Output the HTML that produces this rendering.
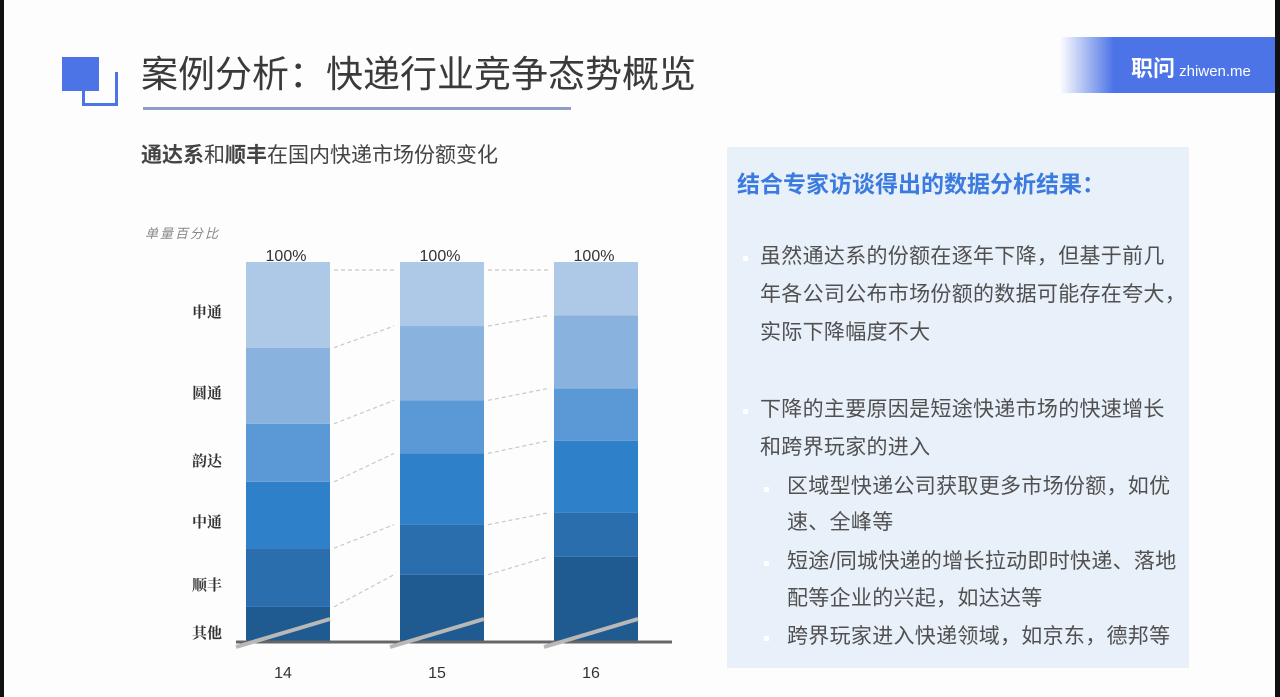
<!DOCTYPE html>
<html><head><meta charset="utf-8"><style>
body{margin:0;width:1280px;height:697px;overflow:hidden;background:#fdfdfe;font-family:"Liberation Sans","Noto Sans CJK SC",sans-serif;position:relative}
.abs{position:absolute;white-space:nowrap}
.t{font-size:21px;color:#505050;line-height:38px;letter-spacing:0.3px}
.dot{position:absolute;width:5px;height:5px;background:#fff;border-radius:1px}
</style></head><body>
<div class="abs" style="left:0;top:0;width:4px;height:697px;background:#111"></div>
<div class="abs" style="left:1275px;top:0;width:5px;height:697px;background:#111"></div>
<div class="abs" style="left:62px;top:57px;width:37px;height:34px;background:#4d74e6"></div>
<div class="abs" style="left:82px;top:72px;width:30px;height:31px;border:3px solid #4d74e6;border-top:none"></div>
<div class="abs" style="left:141px;top:51px;font-size:37px;color:#3a3a3a;line-height:48px">案例分析：快递行业竞争态势概览</div>
<div class="abs" style="left:143px;top:107px;width:428px;height:3px;background:#8e9cc6"></div>
<div class="abs" style="left:1060px;top:37px;width:215px;height:56px;background:linear-gradient(90deg,rgba(77,116,230,0) 0%,#4d74e6 25%,#4d74e6 100%)"></div>
<div class="abs" style="left:1131px;top:51px;font-size:22px;color:#fff;font-weight:bold">职问<span style="font-size:15px;font-weight:normal"> zhiwen.me</span></div>
<div class="abs" style="left:141px;top:139px;font-size:21px;color:#444"><b>通达系</b>和<b>顺丰</b>在国内快递市场份额变化</div>

<svg class="abs" style="left:0;top:0" width="720" height="697"></svg>

<div class="abs" style="left:727px;top:147px;width:462px;height:521px;background:#e8f0f9"></div>
<div class="abs" style="left:737px;top:165px;font-size:23px;font-weight:bold;color:#3b7be0">结合专家访谈得出的数据分析结果：</div>
<div class="dot" style="left:743px;top:256px"></div>
<div class="abs t" style="left:760px;top:238px">虽然通达系的份额在逐年下降，但基于前几<br>年各公司公布市场份额的数据可能存在夸大，<br>实际下降幅度不大</div>
<div class="dot" style="left:743px;top:409px"></div>
<div class="abs t" style="left:760px;top:391px">下降的主要原因是短途快递市场的快速增长<br>和跨界玩家的进入</div>
<div class="dot" style="left:764px;top:487px"></div>
<div class="abs t" style="left:787px;top:469px;line-height:36px">区域型快递公司获取更多市场份额，如优<br>速、全峰等</div>
<div class="dot" style="left:764px;top:561px"></div>
<div class="abs t" style="left:787px;top:543px;line-height:37px">短途/同城快递的增长拉动即时快递、落地<br>配等企业的兴起，如达达等</div>
<div class="dot" style="left:764px;top:636px"></div>
<div class="abs t" style="left:787px;top:618px">跨界玩家进入快递领域，如京东，德邦等</div>

<script>
const categories=["14","15","16"];
const seriesNames=["其他","顺丰","中通","韵达","圆通","申通"];
const s0=[9.0,17.5,22.2];
const s1=[15.5,13.2,11.6];
const s2=[17.5,18.8,19.0];
const s3=[15.3,14.0,13.8];
const s4=[20.1,19.6,19.3];
const s5=[22.6,16.9,14.1];
const series=[s0,s1,s2,s3,s4,s5];
const colors=["#1f5a90","#2a6eae","#2e80c8","#5a98d6","#8ab2de","#aec9e8"];
const labelYs=[632,584,521,460,392,311];
const svg=document.querySelector('svg');
const NS='http://www.w3.org/2000/svg';
const y0=641,y1=262,barW=84;
const xPos=i=>246+i*154;
const yScale=v=>y0-(v/100)*(y0-y1);
function mk(tag,attrs){const e=document.createElementNS(NS,tag);for(const k in attrs)e.setAttribute(k,attrs[k]);svg.appendChild(e);return e;}
const bounds=[];
categories.forEach((c,i)=>{
  let cum=0;const b=[];
  series.forEach((s,j)=>{
    const top=yScale(cum+s[i]),bot=yScale(cum);
    const r=mk('rect',{x:xPos(i),y:top,width:barW,height:bot-top,fill:colors[j]});
    
    
    cum+=s[i];b.push(top);
  });
  bounds.push(b);
  const t=mk('text',{x:xPos(i)+barW/2-2,y:y1-1,'text-anchor':'middle','font-size':16,fill:'#333'});
  t.textContent='100%';
  
  
  const xl=mk('text',{x:xPos(i)+barW/2-5,y:678,'text-anchor':'middle','font-size':16,fill:'#333'});
  xl.textContent=c;
  
  
});
for(let i=0;i<categories.length-1;i++){
  for(let j=0;j<series.length;j++){
    const l=mk('line',{x1:xPos(i)+barW+4,y1:bounds[i][j]+(j==5?8:0),x2:xPos(i+1)-6,y2:bounds[i+1][j]+(j==5?8:0),stroke:'#c8c8c8','stroke-width':1.2,'stroke-dasharray':'4,3'});
    
    
  }
}
const ax=mk('line',{x1:236,y1:y0+1,x2:672,y2:y0+1,stroke:'#666','stroke-width':3});


categories.forEach((c,i)=>{
  const br=mk('line',{x1:xPos(i)-10,y1:647,x2:xPos(i)+barW,y2:619,stroke:'#b8b8b8','stroke-width':4});
  
  
});
seriesNames.forEach((n,j)=>{
  const t=mk('text',{x:192,y:labelYs[j]+6,'font-size':15,fill:'#333','font-family':'"Liberation Serif","Noto Serif CJK SC",serif','font-weight':'bold'});
  t.textContent=n;
  
  
});
const yt=mk('text',{x:145,y:238,'font-size':13,fill:'#888','font-style':'italic','letter-spacing':'2'});
yt.textContent='单量百分比';


</script>
</body></html>
